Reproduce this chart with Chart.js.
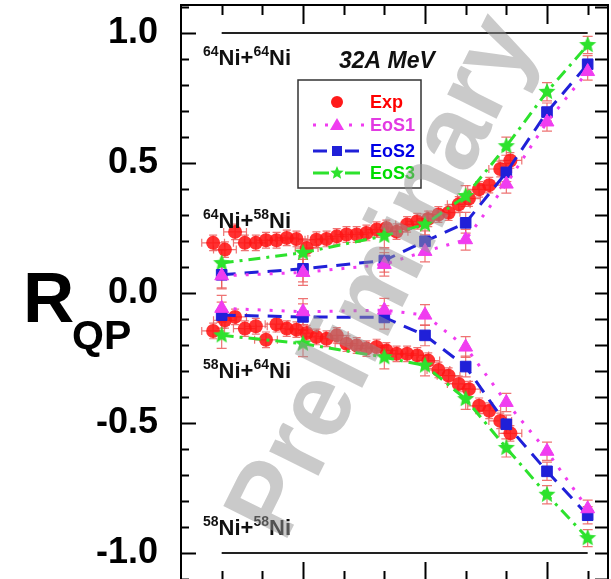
<!DOCTYPE html>
<html>
<head>
<meta charset="utf-8">
<script src="https://cdn.jsdelivr.net/npm/chart.js@4"></script>
<style>
  html, body { margin: 0; padding: 0; background: #fff; overflow: hidden; }
  #wrap { position: relative; width: 611px; height: 579px; overflow: hidden; }
</style>
</head>
<body>
<div id="wrap"><canvas id="myChart" width="611" height="584"></canvas></div>
<script>
// x positions of the model calculations (axis ticks 1..10)
const modelX = [1, 3, 5, 6, 7, 8, 9, 10];
// upper branch: 64Ni+58Ni, lower branch: 58Ni+64Ni
const eos1Up   = [0.066, 0.079, 0.110, 0.160, 0.205, 0.419, 0.658, 0.852];
const eos2Up   = [0.070, 0.093, 0.125, 0.199, 0.270, 0.464, 0.696, 0.880];
const eos3Up   = [0.115, 0.155, 0.220, 0.264, 0.373, 0.565, 0.774, 0.954];
const eos1Down = [-0.059, -0.072, -0.066, -0.085, -0.208, -0.421, -0.609, -0.830];
const eos2Down = [-0.085, -0.092, -0.094, -0.163, -0.283, -0.505, -0.686, -0.855];
const eos3Down = [-0.163, -0.195, -0.247, -0.279, -0.408, -0.596, -0.776, -0.943];
const modelErr = [0.05, 0.05, 0.045, 0.04, 0.04, 0.035, 0.035, 0.033];

// experimental points
const expX    = [0.79, 1.08, 1.33, 1.57, 1.84, 2.09, 2.35, 2.60, 2.84, 3.09,
                 3.33, 3.58, 3.83, 4.07, 4.32, 4.56, 4.81, 5.05, 5.30, 5.56,
                 5.81, 6.08, 6.33, 6.58, 6.83, 7.08, 7.33, 7.58, 7.85, 8.10];
const expUp   = [0.193, 0.167, 0.235, 0.193, 0.193, 0.203, 0.203, 0.212, 0.208, 0.173,
                 0.205, 0.208, 0.218, 0.225, 0.225, 0.231, 0.244, 0.250, 0.236, 0.264,
                 0.276, 0.285, 0.302, 0.309, 0.341, 0.363, 0.399, 0.415, 0.477, 0.510];
const expDown = [-0.146, -0.105, -0.092, -0.137, -0.128, -0.180, -0.120, -0.137, -0.141, -0.154,
                 -0.169, -0.176, -0.163, -0.195, -0.202, -0.214, -0.208, -0.221, -0.234, -0.234,
                 -0.240, -0.260, -0.296, -0.318, -0.350, -0.370, -0.434, -0.453, -0.492, -0.540];
const expErrX = 0.28;
const expErrY = 0.03;

// symmetric limits 64Ni+64Ni / 58Ni+58Ni
const limitX = [1, 10];
const limitUp = [1, 1];
const limitDown = [-1, -1];

const yTickLabels = [-1, -0.5, 0, 0.5, 1];
const xMajorTicks = [3, 6, 9];

const RED = '#ff1a1a', MAG = '#f03cf0', BLUE = '#2020d8', GREEN = '#2de22d';
const FONT = 'Liberation Sans, Arial, Helvetica, sans-serif';

function pts(xs, ys) { return xs.map((x, i) => ({ x: x, y: ys[i] })); }

function makeStar(r, fill) {
  const s = Math.ceil(r * 2 + 2);
  const c = document.createElement('canvas');
  c.width = s; c.height = s;
  const g = c.getContext('2d');
  g.beginPath();
  for (let i = 0; i < 10; i++) {
    const rr = i % 2 === 0 ? r : r * 0.45;
    const a = -Math.PI / 2 + i * Math.PI / 5;
    const px = s / 2 + rr * Math.cos(a), py = s / 2 + rr * Math.sin(a);
    if (i === 0) g.moveTo(px, py); else g.lineTo(px, py);
  }
  g.closePath();
  g.fillStyle = fill;
  g.fill();
  return c;
}
const starBig = makeStar(9, GREEN);
const starSmall = makeStar(7, GREEN);

function expSet(ys) {
  return { data: pts(expX, ys), showLine: false, pointStyle: 'circle', pointRadius: 7,
           backgroundColor: 'rgba(255,20,20,0.88)', borderColor: 'rgba(255,20,20,0.88)', borderWidth: 0,
           errX: expErrX, errY: expErrY, order: 3 };
}
function eos1Set(ys) {
  return { data: pts(modelX, ys), showLine: true, borderColor: MAG, borderWidth: 3, borderDash: [3, 9],
           pointStyle: 'triangle', pointRadius: 8, backgroundColor: MAG, pointBorderColor: MAG, pointBorderWidth: 1,
           errY: modelErr, order: 1 };
}
function eos2Set(ys) {
  return { data: pts(modelX, ys), showLine: true, borderColor: BLUE, borderWidth: 3, borderDash: [14, 9],
           pointStyle: 'rect', pointRadius: 7.5, backgroundColor: BLUE, pointBorderColor: BLUE, pointBorderWidth: 1,
           errY: modelErr, order: 1 };
}
function eos3Set(ys) {
  return { data: pts(modelX, ys), showLine: true, borderColor: GREEN, borderWidth: 3, borderDash: [12, 6, 3, 6],
           pointStyle: starBig, pointRadius: 9, backgroundColor: GREEN,
           errY: modelErr, order: 1 };
}
function limitSet(ys) {
  return { data: pts(limitX, ys), showLine: true, borderColor: '#222', borderWidth: 2,
           pointRadius: 0, order: 5 };
}

// vertical / horizontal error bars with caps
const errorBars = {
  id: 'errorBars',
  beforeDatasetsDraw(chart) {
    const ctx = chart.ctx, xs = chart.scales.x, ys = chart.scales.y;
    ctx.save();
    ctx.strokeStyle = 'rgba(235,90,90,0.85)';
    ctx.lineWidth = 1.2;
    chart.data.datasets.forEach(ds => {
      if (ds.errY === undefined) return;
      ds.data.forEach((p, i) => {
        const ey = Array.isArray(ds.errY) ? ds.errY[i] : ds.errY;
        const px = xs.getPixelForValue(p.x);
        const y1 = ys.getPixelForValue(p.y + ey), y2 = ys.getPixelForValue(p.y - ey);
        const cap = ds.errX ? 4 : 5;
        ctx.beginPath();
        ctx.moveTo(px, y1); ctx.lineTo(px, y2);
        ctx.moveTo(px - cap, y1); ctx.lineTo(px + cap, y1);
        ctx.moveTo(px - cap, y2); ctx.lineTo(px + cap, y2);
        if (ds.errX) {
          const py = ys.getPixelForValue(p.y);
          const x1 = xs.getPixelForValue(p.x - ds.errX), x2 = xs.getPixelForValue(p.x + ds.errX);
          ctx.moveTo(x1, py); ctx.lineTo(x2, py);
          ctx.moveTo(x1, py - 4); ctx.lineTo(x1, py + 4);
          ctx.moveTo(x2, py - 4); ctx.lineTo(x2, py + 4);
        }
        ctx.stroke();
      });
    });
    ctx.restore();
  }
};

// plot frame with inward ticks
const frame = {
  id: 'frame',
  afterDatasetsDraw(chart) {
    const ctx = chart.ctx, a = chart.chartArea, xs = chart.scales.x, ys = chart.scales.y;
    ctx.save();
    ctx.strokeStyle = '#000';
    ctx.lineWidth = 2;
    ctx.strokeRect(a.left, a.top, a.right - a.left, a.bottom - a.top);
    ctx.beginPath();
    for (let k = -11; k <= 11; k++) {
      const v = k / 10;
      const py = Math.round(ys.getPixelForValue(v)) + 0.5;
      const major = k % 5 === 0;
      ctx.moveTo(a.left, py); ctx.lineTo(a.left + (major ? 15 : 8), py);
      ctx.moveTo(a.right, py); ctx.lineTo(a.right - 13, py);
    }
    for (let k = 1; k <= 10; k++) {
      const px = Math.round(xs.getPixelForValue(k)) + 0.5;
      const len = xMajorTicks.includes(k) ? 19 : 10;
      ctx.moveTo(px, a.top); ctx.lineTo(px, a.top + len);
      ctx.moveTo(px, a.bottom); ctx.lineTo(px, a.bottom - len);
    }
    ctx.stroke();
    ctx.restore();
  }
};

function nuclei(ctx, x, y, a1, a2) {
  const big = 'bold 22px ' + FONT, sup = 'bold 14px ' + FONT;
  ctx.textBaseline = 'alphabetic';
  ctx.textAlign = 'left';
  const parts = [[a1, sup, -9], ['Ni+', big, 0], [a2, sup, -9], ['Ni', big, 0]];
  parts.forEach(p => {
    ctx.font = p[1];
    ctx.fillText(p[0], x, y + p[2]);
    x += ctx.measureText(p[0]).width;
  });
}

// labels, legend and watermark
const decorations = {
  id: 'decorations',
  afterDraw(chart) {
    const ctx = chart.ctx;
    ctx.save();
    ctx.fillStyle = '#111';
    nuclei(ctx, 203, 65, '64', '64');
    nuclei(ctx, 203, 228, '64', '58');
    nuclei(ctx, 203, 378, '58', '64');
    nuclei(ctx, 203, 535, '58', '58');
    ctx.font = 'italic bold 23px ' + FONT;
    ctx.fillText('32A MeV', 339, 68);

    // axis title R_QP
    ctx.fillStyle = '#000';
    ctx.font = 'bold 71px ' + FONT;
    ctx.fillText('R', 23, 322);
    ctx.font = 'bold 41px ' + FONT;
    ctx.fillText('QP', 72, 349);

    // legend box
    ctx.fillStyle = '#fff';
    ctx.fillRect(298, 80, 123, 108);
    ctx.strokeStyle = '#333';
    ctx.lineWidth = 1.5;
    ctx.strokeRect(298, 80, 123, 108);
    const rows = [
      { t: 'Exp', c: '#ff0000', y: 102 },
      { t: 'EoS1', c: '#e23be2', y: 125, dash: [3, 9], lc: MAG },
      { t: 'EoS2', c: '#0000e6', y: 151, dash: [14, 9], lc: BLUE },
      { t: 'EoS3', c: '#00dd00', y: 173, dash: [16, 100], lc: GREEN }
    ];
    rows.forEach((r, i) => {
      if (r.lc) {
        ctx.strokeStyle = r.lc; ctx.lineWidth = 3;
        ctx.setLineDash(r.dash);
        ctx.beginPath();
        if (i === 1) { ctx.moveTo(313, r.y); ctx.lineTo(364, r.y); }
        else { ctx.moveTo(313, r.y); ctx.lineTo(330, r.y); ctx.moveTo(345, r.y); ctx.lineTo(360, r.y); }
        ctx.stroke();
        ctx.setLineDash([]);
      }
      ctx.fillStyle = [RED, MAG, BLUE, GREEN][i];
      ctx.beginPath();
      if (i === 0) { ctx.arc(337, r.y, 6, 0, Math.PI * 2); ctx.fill(); }
      else if (i === 1) { ctx.moveTo(337, r.y - 7); ctx.lineTo(344, r.y + 5); ctx.lineTo(330, r.y + 5); ctx.closePath(); ctx.fill(); }
      else if (i === 2) { ctx.fillRect(332, r.y - 5, 10, 10); }
      else { ctx.drawImage(starSmall, 337 - starSmall.width / 2, r.y - starSmall.height / 2); }
      ctx.fillStyle = r.c;
      ctx.font = 'bold 18px ' + FONT;
      ctx.textBaseline = 'middle';
      ctx.fillText(r.t, 370, r.y + 1);
    });

    // watermark
    ctx.translate(385, 278);
    ctx.rotate(-63.5 * Math.PI / 180);
    ctx.font = 'bold 104px ' + FONT;
    ctx.textAlign = 'center';
    ctx.textBaseline = 'middle';
    ctx.fillStyle = 'rgba(150,150,150,0.5)';
    ctx.fillText('Preliminary', 0, 0);
    ctx.restore();
  }
};

new Chart(document.getElementById('myChart'), {
  type: 'scatter',
  data: {
    datasets: [
      limitSet(limitUp), limitSet(limitDown),
      eos1Set(eos1Up), eos1Set(eos1Down),
      eos2Set(eos2Up), eos2Set(eos2Down),
      eos3Set(eos3Up), eos3Set(eos3Down),
      expSet(expUp), expSet(expDown)
    ]
  },
  options: {
    responsive: false,
    animation: false,
    layout: { autoPadding: false, padding: { left: 0, top: 5, right: 3, bottom: 3 } },
    plugins: { legend: { display: false }, tooltip: { enabled: false } },
    scales: {
      x: { type: 'linear', display: false, min: 0, max: 10.5 },
      y: {
        type: 'linear', min: -1.108, max: 1.108,
        grid: { display: false, drawTicks: false }, border: { display: false },
        afterFit: s => {
          s.width = 181;
          s.paddingTop = 0; s.paddingBottom = 0; s.paddingLeft = 0; s.paddingRight = 0;
        },
        afterBuildTicks: s => { s.ticks = yTickLabels.map(v => ({ value: v })); },
        ticks: {
          padding: 23, color: '#000',
          font: { family: FONT, size: 36, weight: 'bold' },
          callback: v => v.toFixed(1)
        }
      }
    }
  },
  plugins: [errorBars, frame, decorations]
});
</script>
</body>
</html>
